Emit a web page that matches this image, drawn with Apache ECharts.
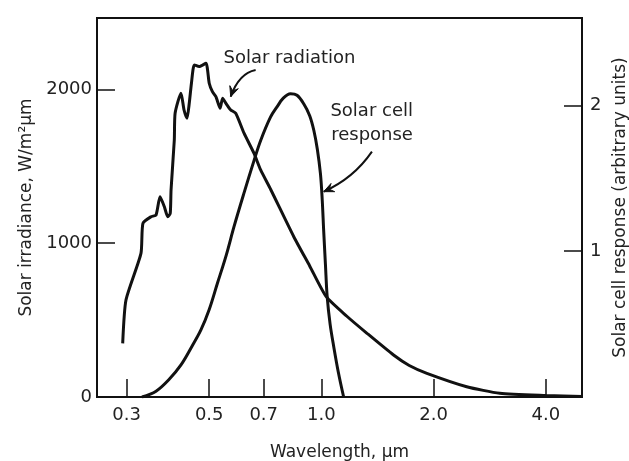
<!DOCTYPE html>
<html>
<head>
<meta charset="utf-8">
<script src="https://cdn.jsdelivr.net/npm/echarts@6/dist/echarts.min.js"></script>
<style>
html,body{margin:0;padding:0;background:#fff;}
#c{width:629px;height:461px;}
</style>
</head>
<body>
<div id="c"></div>
<script>
// ---- Data ----
const solarWavelength = [0.293, 0.299, 0.328, 0.332, 0.349, 0.360, 0.369, 0.379, 0.387, 0.393, 0.395, 0.403, 0.405, 0.420, 0.428, 0.436, 0.442, 0.448, 0.456, 0.470, 0.490, 0.500, 0.510, 0.521, 0.535, 0.543, 0.554, 0.571, 0.589, 0.620, 0.659, 0.687, 0.731, 0.843, 0.93, 1.03, 1.17, 1.325, 1.561, 1.72, 1.918, 2.453, 3.01, 4.0, 5.0];
const solarIrradiance = [349, 631, 934, 1129, 1172, 1183, 1302, 1237, 1172, 1194, 1346, 1671, 1845, 1975, 1866, 1812, 1910, 2040, 2159, 2148, 2170, 2040, 1985, 1953, 1877, 1942, 1910, 1866, 1845, 1715, 1585, 1476, 1349, 1042, 852, 652, 525, 414, 273, 205, 154, 67, 24, 10, 4];

const cellWavelength = [0.33, 0.36, 0.39, 0.42, 0.45, 0.475, 0.50, 0.526, 0.555, 0.583, 0.62, 0.659, 0.687, 0.73, 0.76, 0.79, 0.826, 0.86, 0.897, 0.93, 0.954, 0.975, 0.994, 1.005, 1.014, 1.025, 1.036, 1.055, 1.079, 1.11, 1.147];
const cellResponse = [0, 0.04, 0.12, 0.22, 0.35, 0.46, 0.60, 0.78, 0.97, 1.17, 1.40, 1.62, 1.76, 1.92, 1.99, 2.05, 2.08, 2.07, 2.01, 1.93, 1.83, 1.70, 1.53, 1.35, 1.14, 0.91, 0.69, 0.50, 0.345, 0.17, 0];

const xTickValues = [0.3, 0.5, 0.7, 1.0, 2.0, 4.0];
const xTickLabels = ['0.3', '0.5', '0.7', '1.0', '2.0', '4.0'];
const leftTickValues = [0, 1000, 2000];
const leftTickLabels = ['0', '1000', '2000'];
const rightTickValues = [1, 2];
const rightTickLabels = ['1', '2'];

// annotation anchors in data units (wavelength, irradiance)
const annotationTexts = [
  {text: 'Solar radiation', at: [0.546, 2204]},
  {text: 'Solar cell', at: [1.057, 1856]},
  {text: 'response', at: [1.062, 1704]}
];
const annotationArrows = [
  {tail: [0.666, 2126], ctrl: [0.601, 2105], tip: [0.571, 1953]},
  {tail: [1.366, 1595], ctrl: [1.220, 1422], tip: [1.0143, 1335]}
];

// ---- Chart ----
const ink = '#111111';
const txt = '#222222';
const font = 'DejaVu Sans';
function pick(vals, labels, v) {
  for (let i = 0; i < vals.length; i++) if (Math.abs(vals[i] - v) < 1e-6) return labels[i];
  return '';
}
const chart = echarts.init(document.getElementById('c'), null, {renderer: 'canvas'});
const solarData = solarWavelength.map((x, i) => [x, solarIrradiance[i]]);
const cellData = cellWavelength.map((x, i) => [x, cellResponse[i]]);

chart.setOption({
  animation: false,
  backgroundColor: '#fff',
  grid: {left: 97, right: 47, top: 18, bottom: 64, show: true, borderColor: ink, borderWidth: 2, outerBoundsMode: 'none', containLabel: false},
  xAxis: {
    type: 'log', logBase: 10, min: 0.25, max: 5,
    name: 'Wavelength, µm', nameLocation: 'middle', nameGap: 47,
    nameTextStyle: {fontFamily: font, fontSize: 17, color: txt},
    axisLine: {show: true, lineStyle: {color: ink, width: 2}},
    axisTick: {show: true, inside: true, length: 18, customValues: xTickValues, lineStyle: {color: ink, width: 1.5}},
    minorTick: {show: false},
    axisLabel: {show: true, customValues: xTickValues, formatter: v => pick(xTickValues, xTickLabels, v), fontFamily: font, fontSize: 18, color: txt, margin: 9},
    splitLine: {show: false}, minorSplitLine: {show: false}
  },
  yAxis: [
    {
      type: 'value', position: 'left', min: 0, max: 2464,
      name: 'Solar irradiance, W/m²µm', nameLocation: 'middle', nameGap: 60, nameRotate: 90,
      nameTextStyle: {fontFamily: font, fontSize: 17, color: txt},
      axisLine: {show: true, lineStyle: {color: ink, width: 2}},
      axisTick: {show: true, inside: true, length: 18, customValues: [1000, 2000], lineStyle: {color: ink, width: 1.5}},
      axisLabel: {customValues: leftTickValues, formatter: v => pick(leftTickValues, leftTickLabels, v), fontFamily: font, fontSize: 18, color: txt, margin: 5},
      splitLine: {show: false}
    },
    {
      type: 'value', position: 'right', min: 0, max: 2.6,
      name: 'Solar cell response (arbitrary units)', nameLocation: 'middle', nameGap: 28, nameRotate: 90,
      nameTextStyle: {fontFamily: font, fontSize: 17, color: txt},
      axisLine: {show: true, lineStyle: {color: ink, width: 2}},
      axisTick: {show: true, inside: true, length: 18, customValues: rightTickValues, lineStyle: {color: ink, width: 1.5}},
      axisLabel: {customValues: rightTickValues, formatter: v => pick(rightTickValues, rightTickLabels, v), fontFamily: font, fontSize: 18, color: txt, margin: 8},
      splitLine: {show: false}
    }
  ],
  series: [
    {name: 'Solar radiation', type: 'line', xAxisIndex: 0, yAxisIndex: 0, data: solarData, showSymbol: false, smooth: 0.2, lineStyle: {color: ink, width: 3}, z: 3},
    {name: 'Solar cell response', type: 'line', xAxisIndex: 0, yAxisIndex: 1, data: cellData, showSymbol: false, smooth: 0.35, lineStyle: {color: ink, width: 3}, z: 3}
  ]
});

// ---- annotations anchored to data coordinates ----
function px(p) { return chart.convertToPixel({seriesIndex: 0}, p); }
const graphics = [];
annotationTexts.forEach(a => {
  const p = px(a.at);
  graphics.push({type: 'text', z: 10, style: {text: a.text, x: p[0], y: p[1], fill: txt, font: '18px "DejaVu Sans"', align: 'left', verticalAlign: 'middle'}});
});
annotationArrows.forEach(a => {
  const t0 = px(a.tail), c = px(a.ctrl), t1 = px(a.tip);
  graphics.push({type: 'bezierCurve', z: 10, shape: {x1: t0[0], y1: t0[1], cpx1: c[0], cpy1: c[1], x2: t1[0], y2: t1[1]}, style: {stroke: ink, lineWidth: 2, fill: null}});
  let dx = t1[0] - c[0], dy = t1[1] - c[1];
  const L = Math.hypot(dx, dy); dx /= L; dy /= L;
  const nx = -dy, ny = dx;
  const len = 10, hw = 4.5;
  const bx = t1[0] - dx * len, by = t1[1] - dy * len;
  const mx = t1[0] - dx * len * 0.6, my = t1[1] - dy * len * 0.6;
  graphics.push({type: 'polygon', z: 10, shape: {points: [[t1[0], t1[1]], [bx + nx * hw, by + ny * hw], [mx, my], [bx - nx * hw, by - ny * hw]]}, style: {fill: ink, stroke: ink, lineWidth: 1}});
});
chart.setOption({graphic: graphics});
</script>
</body>
</html>
